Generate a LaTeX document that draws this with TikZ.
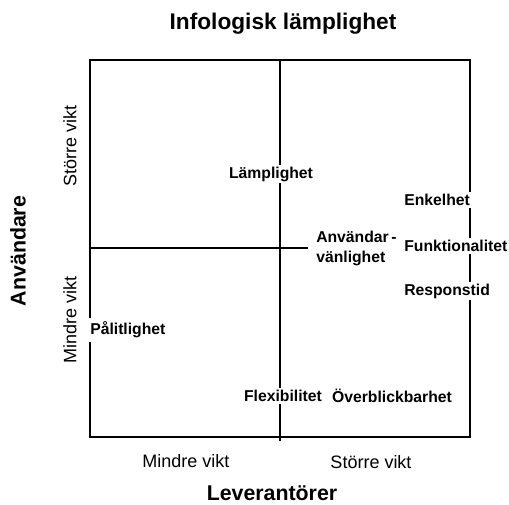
\documentclass[tikz,border=0pt]{standalone}
\usepackage{fontspec}
\setmainfont{Liberation Sans}
\tikzset{
  lbl/.style={font=\fontsize{11.8}{15}\selectfont\bfseries, fill=white, inner sep=1.5pt},
  axis/.style={font=\fontsize{13.5}{16}\selectfont},
  head/.style={font=\fontsize{16}{19}\selectfont\bfseries}
}
\begin{document}
\begin{tikzpicture}[x=0.75pt,y=-0.75pt]
\useasboundingbox (0,0) rectangle (509,505);
% frame and cross
\draw[line width=1.3pt] (90,60) rectangle (470,437);
\coordinate (vtop) at (280,60);
\coordinate (vbot) at (280,441);
\coordinate (hleft) at (90,248);
\coordinate (hright) at (308,248);
\draw[line width=1.3pt] (vtop) -- (vbot);
\draw[line width=1.3pt] (hleft) -- (hright);
% headings
\node[head, font=\fontsize{17}{20}\selectfont\bfseries] (title) at (283,24) {Infologisk lämplighet};
\node[head] (lev) at (272,493) {Leverantörer};
\node[head, rotate=90] (anv) at (18,251) {Användare};
\node[axis] (mvx) at (186,461) {Mindre vikt};
\node[axis] (svx) at (371,462) {Större vikt};
\node[axis, rotate=90] (svy) at (70,146) {Större vikt};
\node[axis, rotate=90] (mvy) at (70,320) {Mindre vikt};
% qualities
\node[lbl] (lamp) at (271,174) {Lämplighet};
\node[lbl, align=left, anchor=west] (anvv) at (314,248) {Användar\,-\\vänlighet};
\node[lbl, anchor=west] (enk) at (402,200) {Enkelhet};
\node[lbl, anchor=west] (funk) at (402,246) {Funktionalitet};
\node[lbl, anchor=west] (resp) at (402,291) {Responstid};
\node[lbl, anchor=west, inner ysep=3pt] (pal) at (88,330) {Pålitlighet};
\node[lbl] (flex) at (283,396) {Flexibilitet};
\node[lbl] (overb) at (392,396) {Överblickbarhet};
\end{tikzpicture}
\end{document}
